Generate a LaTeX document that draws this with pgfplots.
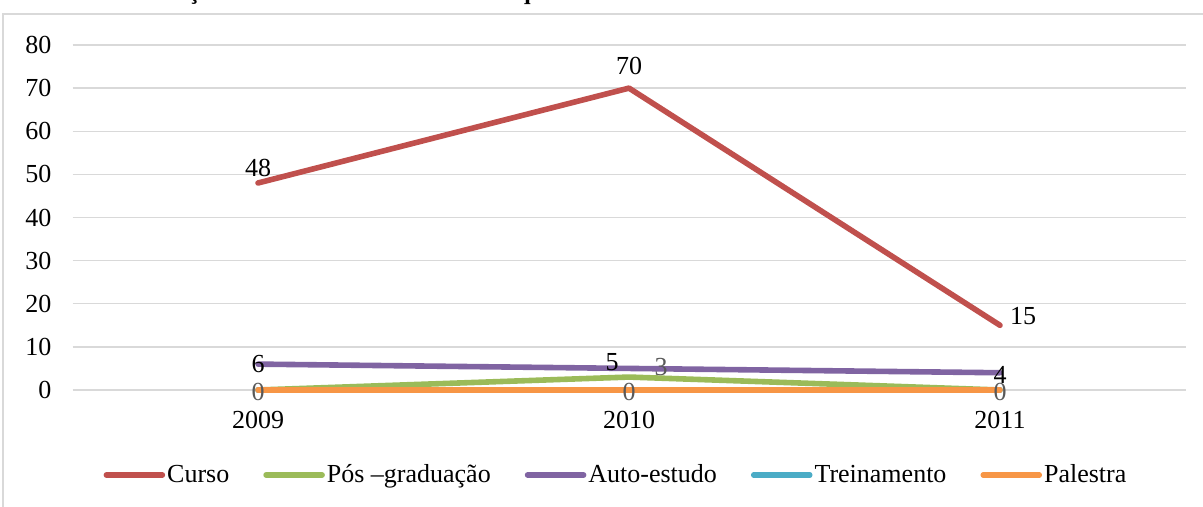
\documentclass[border=0pt]{standalone}
\usepackage{pgfplots}
\pgfplotsset{compat=1.18}
\usepackage{fontspec}
\setmainfont{Liberation Serif}
\definecolor{cCurso}{HTML}{C0504D}
\definecolor{cPos}{HTML}{9BBB59}
\definecolor{cAuto}{HTML}{8064A2}
\definecolor{cTrein}{HTML}{4BACC6}
\definecolor{cPal}{HTML}{F79646}
\definecolor{gridgray}{HTML}{D9D9D9}
\definecolor{labgray}{HTML}{595959}
\begin{document}
\begin{tikzpicture}[x=1pt,y=1pt]
% title (only its lower edge is visible in the reference)
\node[anchor=base west, inner sep=0pt, font=\bfseries\fontsize{12}{14}\selectfont] at (2.5,253.8)
  {Gráfico 11: Evolução das modalidades de eventos que ocorreram no Instituto Federal de Goiás de 2009 a 2011};
% chart frame
\draw[gridgray, line width=0.8pt] (1.5,-5) -- (1.5,246.5) -- (620,246.5);
\begin{axis}[
  at={(36.25pt,58.5pt)}, anchor=south west,
  scale only axis, width=556.5pt, height=172.5pt,
  xmin=-0.5, xmax=2.5, ymin=0, ymax=80,
  xtick={0,1,2}, xticklabels={2009,2010,2011},
  ytick={0,10,...,80},
  ymajorgrids, grid style={gridgray, line width=0.7pt},
  axis line style={draw=none},
  major tick length=0pt,
  clip=false,
  tick label style={font=\fontsize{13}{15}\selectfont},
  /pgf/number format/assume math mode=true,
  xticklabel style={yshift=-7pt},
  yticklabel style={xshift=-7pt},
  legend columns=5,
  legend style={at={(0.4883,-0.2464)}, anchor=center, draw=none, fill=none,
    font=\fontsize{13}{15}\selectfont,
    nodes={inner sep=1pt},
    /tikz/every even column/.append style={column sep=16pt}},
  legend image code/.code={\draw[#1, line cap=round] (0pt,0pt) -- (28pt,0pt);},
  every axis plot/.append style={line width=2.8pt, line join=round, line cap=round, mark=none},
]
\addplot[cCurso] coordinates {(0,48) (1,70) (2,15)};
\addlegendentry{Curso}
\addplot[cPos] coordinates {(0,0) (1,3) (2,0)};
\addlegendentry{Pós –graduação}
\addplot[cAuto] coordinates {(0,6) (1,5) (2,4)};
\addlegendentry{Auto-estudo}
\addplot[cTrein] coordinates {(0,0) (1,0) (2,0)};
\addlegendentry{Treinamento}
\addplot[cPal] coordinates {(0,0) (1,0) (2,0)};
\addlegendentry{Palestra}
% data labels
\begin{scope}[every node/.style={font=\fontsize{13}{15}\selectfont, inner sep=0pt}]
\node at (axis cs:0,48) [yshift=7.5pt] {48};
\node at (axis cs:1,70) [yshift=11pt] {70};
\node at (axis cs:2,15) [xshift=11.5pt, yshift=4.5pt] {15};
\node at (axis cs:0,6) {6};
\node at (axis cs:1,5) [xshift=-8.5pt, yshift=3.2pt] {5};
\node at (axis cs:2,4) [yshift=-1pt] {4};
\node[text=labgray] at (axis cs:1,3) [xshift=16pt, yshift=5pt] {3};
\node[text=labgray] at (axis cs:0,0) [yshift=-1pt] {0};
\node[text=labgray] at (axis cs:1,0) [yshift=-1pt] {0};
\node[text=labgray] at (axis cs:2,0) [yshift=-1pt] {0};
\end{scope}
\end{axis}
\pgfresetboundingbox
\path[use as bounding box] (0,0) rectangle (601.5,253.5);
\end{tikzpicture}
\end{document}
